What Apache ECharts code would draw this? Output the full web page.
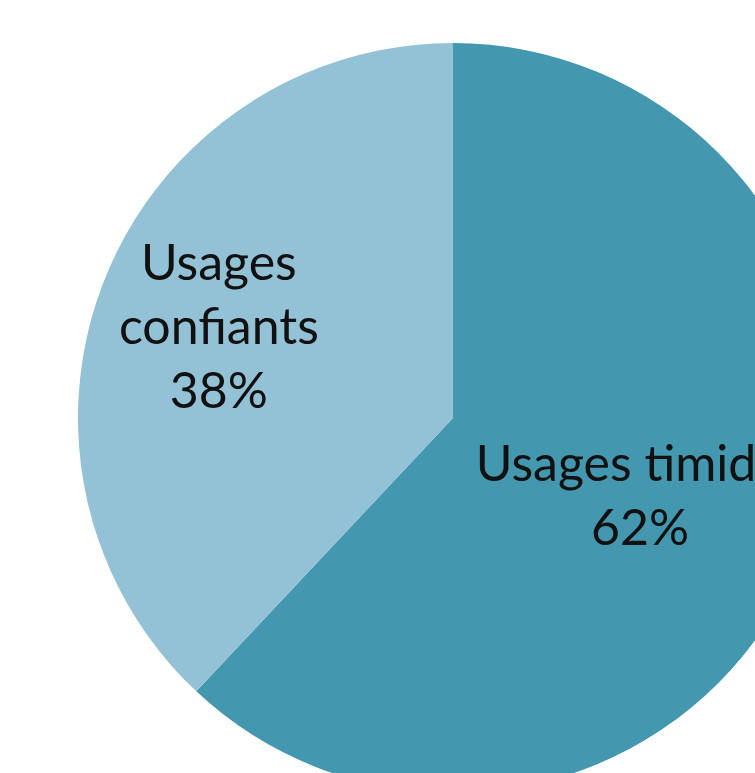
<!DOCTYPE html>
<html>
<head>
<meta charset="utf-8">
<script src="https://cdn.jsdelivr.net/npm/echarts@6/dist/echarts.min.js"></script>
<style>
html,body{margin:0;padding:0;background:#fff;}
#chart{width:755px;height:773px;}
</style>
</head>
<body>
<div id="chart"></div>
<script>
var categories = ['Usages timides', 'Usages confiants'];
var values = [62, 38];
var colors = ['#4397AE', '#93C1D5'];
var labelShift = [[10, 9], [-57, -20]];

var chart = echarts.init(document.getElementById('chart'));
chart.setOption({
  animation: false,
  backgroundColor: '#ffffff',
  series: [{
    type: 'pie',
    center: [453, 418],
    radius: 375,
    startAngle: 90,
    clockwise: true,
    silent: true,
    data: categories.map(function (c, i) {
      return { name: c, value: values[i], itemStyle: { color: colors[i] } };
    }),
    itemStyle: { borderWidth: 0 },
    label: {
      show: true,
      position: 'inside',
      formatter: function (p) {
        var name = p.dataIndex === 1 ? 'Usages\nconfiants' : p.name;
        return name + '\n' + Math.round(p.percent) + '%';
      },
      fontFamily: 'Lato',
      fontSize: 50,
      lineHeight: 64,
      color: '#111111',
      align: 'center'
    },
    labelLayout: function (params) {
      var s = labelShift[params.dataIndex];
      return { dx: s[0], dy: s[1] };
    },
    labelLine: { show: false }
  }]
});
</script>
</body>
</html>
